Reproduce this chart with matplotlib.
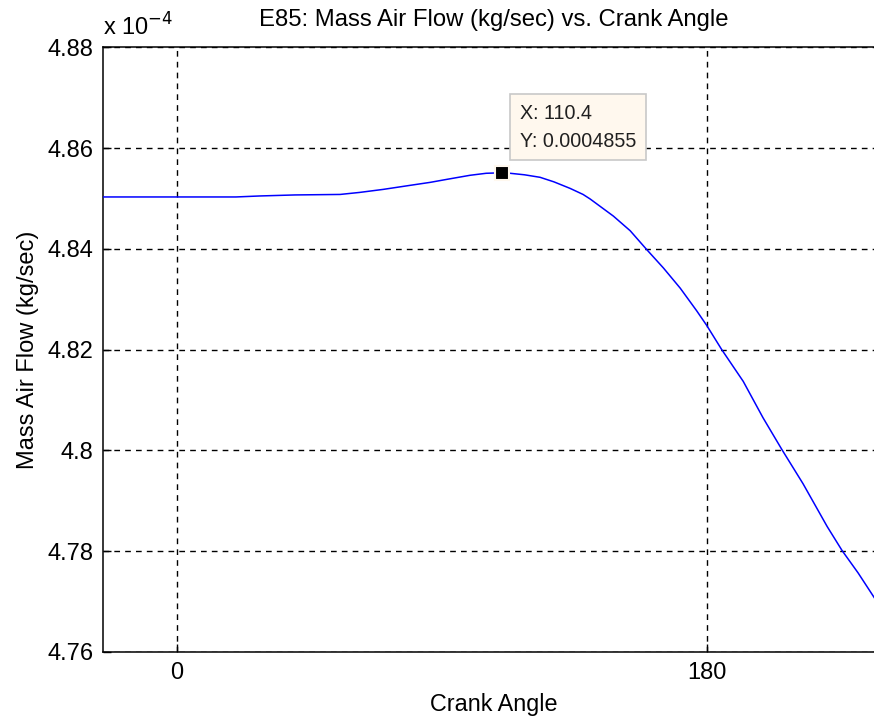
import matplotlib
matplotlib.use("Agg")
import matplotlib.pyplot as plt

# Crank angle (deg) and mass air flow (in units of 1e-4 kg/sec)
crank_angle = [-25, 0, 20, 28.2, 40, 55.4, 62, 70, 79.1, 86, 91.7, 99.5, 105, 110.4,
               113.1, 118, 123.3, 128, 133.5, 137.9, 140.3, 148.2, 153.9, 159.3, 165.2,
               170.9, 176.5, 179.9, 185, 192.3, 199, 205.5, 212.6, 220.8, 225.9, 231.3,
               237]
mass_air_flow = [4.8503, 4.8503, 4.8503, 4.8505, 4.8507, 4.8508, 4.8512, 4.8518, 4.8526,
                 4.8532, 4.8538, 4.8546, 4.8550, 4.8551, 4.8550, 4.8547, 4.8542, 4.8533,
                 4.8520, 4.8508, 4.8499, 4.8465, 4.8436, 4.8400, 4.8362, 4.8322, 4.8277,
                 4.8248, 4.8200, 4.8137, 4.8065, 4.8001, 4.7934, 4.7849, 4.7801, 4.7757,
                 4.7706]

tip_x = 110.4
tip_y = 4.8551
tip_label = "X: 110.4\nY: 0.0004855"

x_ticks = [0, 180]
y_ticks = [4.76, 4.78, 4.80, 4.82, 4.84, 4.86, 4.88]
y_tick_labels = ["4.76", "4.78", "4.8", "4.82", "4.84", "4.86", "4.88"]

plt.rcParams['font.family'] = ['Liberation Sans', 'DejaVu Sans']

W, H = 874, 719
fig = plt.figure(figsize=(W / 100, H / 100), dpi=100)
fig.patch.set_facecolor('white')

ax_left, ax_right = 103.4, 883.7
ax_top, ax_bottom = 47.3, 652.0
ax = fig.add_axes([ax_left / W, (H - ax_bottom) / H,
                   (ax_right - ax_left) / W, (ax_bottom - ax_top) / H])

ax.plot(crank_angle, mass_air_flow, color='#0000ff', linewidth=1.1, zorder=3)
ax.plot([tip_x], [tip_y], marker='s', markersize=10.5, markerfacecolor='black',
        markeredgecolor='#fff8ee', markeredgewidth=1.5, linestyle='none', zorder=5,
        clip_on=False)

ax.set_xlim(-25, 240)
ax.set_ylim(4.76, 4.88)
ax.set_xticks(x_ticks)
ax.set_xticklabels([str(t) for t in x_ticks])
ax.set_yticks(y_ticks)
ax.set_yticklabels(y_tick_labels)

ax.grid(True, color='black', linestyle=(0, (4.1, 3.7)), linewidth=1.0)
ax.tick_params(direction='in', length=6, width=1, labelsize=17, pad=7,
               colors='black')
for s in ['left', 'bottom', 'top', 'right']:
    ax.spines[s].set_linewidth(1.1)
    ax.spines[s].set_color('black')

ax.set_title("E85: Mass Air Flow (kg/sec) vs. Crank Angle", fontsize=17.2, pad=15)
ax.set_xlabel("Crank Angle", fontsize=16.8, labelpad=7)
ax.set_ylabel("Mass Air Flow (kg/sec)", fontsize=17, labelpad=6)

fig.text(103 / W, (H - 36) / H, r"x 10$^{-4}$", fontsize=17, ha='left', va='baseline')

ax.annotate(tip_label, xy=(tip_x, tip_y), xytext=(13, 16), textcoords='offset points',
            fontsize=14.2, ha='left', va='bottom', linespacing=1.55,
            color='#202020',
            bbox=dict(boxstyle='square,pad=0.5', facecolor='#fff8ee',
                      edgecolor='#c8c8c8', linewidth=1.2), zorder=6)

fig.savefig("out.png", dpi=100, facecolor='white')
